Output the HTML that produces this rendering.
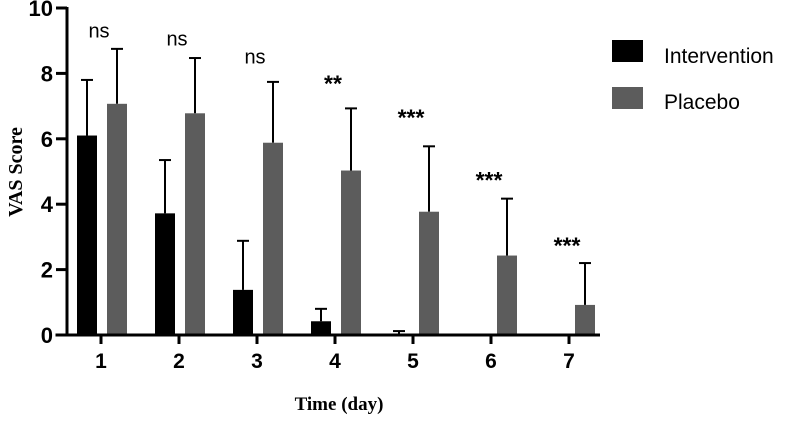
<!DOCTYPE html>
<html><head><meta charset="utf-8"><style>
body{margin:0;background:#fff;}
svg text{font-family:"Liberation Sans",Arial,sans-serif;}
</style></head><body>
<svg width="787" height="416" viewBox="0 0 787 416">
<g id="plot"></g>
<g>
<rect x="612" y="40" width="31" height="22" fill="#000"/>
<text x="664" y="63" font-size="21">Intervention</text>
<rect x="612" y="87" width="31" height="22" fill="#5c5c5c"/>
<text x="664" y="109" font-size="21">Placebo</text>
</g>
<text transform="translate(22,172) rotate(-90)" text-anchor="middle" font-size="20" font-weight="bold" style="font-family:'Liberation Serif',serif">VAS Score</text>
<text x="339" y="410" text-anchor="middle" font-size="19" font-weight="bold" style="font-family:'Liberation Serif',serif">Time (day)</text>
</svg>
<script>
const days=["1","2","3","4","5","6","7"];
const intervention=[6.1,3.72,1.38,0.42,0,0,0];
const interventionErr=[1.7,1.63,1.5,0.38,0.12,0,0];
const placebo=[7.07,6.78,5.88,5.03,3.77,2.43,0.92];
const placeboErr=[1.68,1.69,1.86,1.9,2.0,1.74,1.28];
const sig=["ns","ns","ns","**","***","***","***"];
const sigY=[9.1,8.85,8.3,7.45,6.4,4.5,2.5];
const yTicks=[0,2,4,6,8,10];
const NS="http://www.w3.org/2000/svg";
const g=document.getElementById('plot');
const y=v=>335-v*32.7;
const x=i=>101+i*78;
function mk(t,a,p){const e=document.createElementNS(NS,t);for(const k in a)e.setAttribute(k,a[k]);(p||g).appendChild(e);return e;}
function txt(s,a){const e=mk('text',a);e.textContent=s;return e;}
days.forEach((d,i)=>{
 const c=x(i);
 const ex=c-14, gx=c+16;
 if(intervention[i]+interventionErr[i]>0){
 const l=mk('line',{x1:ex,x2:ex,y1:y(intervention[i]),y2:y(intervention[i]+interventionErr[i]),stroke:'#000','stroke-width':2});
 
 
 const cap=mk('line',{x1:ex-6,x2:ex+6,y1:y(intervention[i]+interventionErr[i]),y2:y(intervention[i]+interventionErr[i]),stroke:'#000','stroke-width':2});
 
 }
 const b=mk('rect',{x:c-24,y:y(intervention[i]),width:20,height:intervention[i]*32.7,fill:'#000'});
 
 
 const l2=mk('line',{x1:gx,x2:gx,y1:y(placebo[i]),y2:y(placebo[i]+placeboErr[i]),stroke:'#000','stroke-width':2});
 
 
 const cap2=mk('line',{x1:gx-6,x2:gx+6,y1:y(placebo[i]+placeboErr[i]),y2:y(placebo[i]+placeboErr[i]),stroke:'#000','stroke-width':2});
 
 
 const b2=mk('rect',{x:c+6,y:y(placebo[i]),width:20,height:placebo[i]*32.7,fill:'#5c5c5c'});
 
 
 const s=txt(sig[i],{x:c-2,y:y(sigY[i]),'text-anchor':'middle','font-size':sig[i]=='ns'?20:23,'font-weight':sig[i]=='ns'?'normal':'bold'});
 
 
 const tk=mk('line',{x1:c,x2:c,y1:335,y2:344,stroke:'#000','stroke-width':3});
 
 
 const tl=txt(d,{x:c,y:368,'text-anchor':'middle','font-size':21,'font-weight':'bold'});
 
 
});
yTicks.forEach(v=>{
 const t=mk('line',{x1:56,x2:67,y1:y(v),y2:y(v),stroke:'#000','stroke-width':3});
 
 
 const tl=txt(String(v),{x:53,y:y(v)+8,'text-anchor':'end','font-size':22,'font-weight':'bold'});
 
 
});
const ya=mk('line',{x1:67,x2:67,y1:y(10)-1,y2:336.5,stroke:'#000','stroke-width':3});


const xa=mk('line',{x1:55.5,x2:600,y1:335,y2:335,stroke:'#000','stroke-width':3});


</script>
</body></html>
